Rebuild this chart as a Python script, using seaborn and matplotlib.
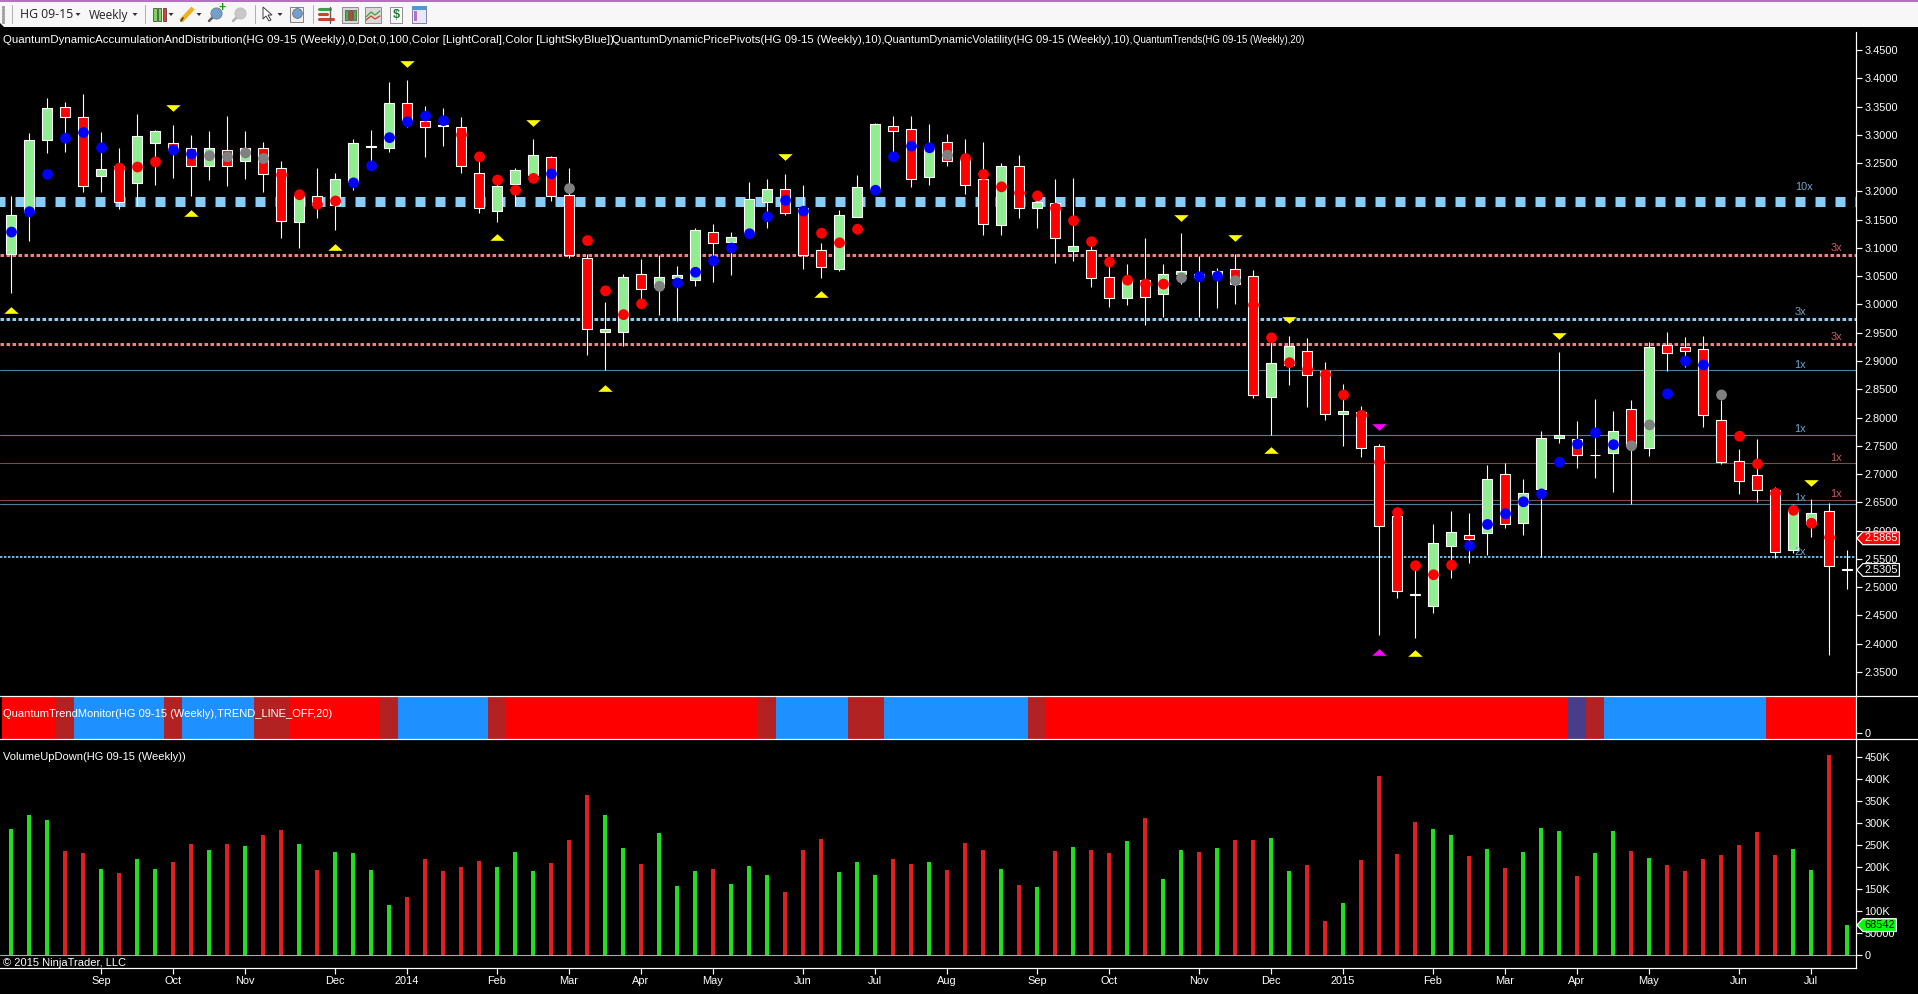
import numpy as np
import pandas as pd
import matplotlib
matplotlib.use("Agg")
import matplotlib.pyplot as plt
import seaborn as sns
from matplotlib.colors import ListedColormap
from matplotlib.lines import Line2D
from matplotlib.path import Path
from matplotlib.patches import Rectangle, Polygon

# ---------------- data ----------------
opens = [3.089,3.164,3.290,3.350,3.331,3.228,3.245,3.214,3.286,3.286,3.276,3.245,3.273,3.253,3.276,3.241,3.145,3.191,3.176,3.217,
         3.279,3.277,3.356,3.324,3.317,3.313,3.233,3.166,3.213,3.229,3.260,3.194,3.083,2.951,2.952,3.053,3.030,3.046,3.044,3.129,
         3.111,3.126,3.182,3.204,3.170,3.096,3.063,3.155,3.205,3.315,3.310,3.226,3.287,3.258,3.221,3.141,3.244,3.171,3.179,3.095,
         3.096,3.048,3.012,3.044,3.019,3.054,3.053,3.052,3.062,3.050,2.837,2.893,2.917,2.883,2.807,2.810,2.749,2.626,2.488,2.467,
         2.572,2.593,2.596,2.700,2.614,2.674,2.763,2.762,2.734,2.738,2.816,2.747,2.928,2.924,2.921,2.795,2.723,2.698,2.672,2.566,
         2.612,2.634,2.532]
closes = [3.158,3.291,3.347,3.332,3.210,3.239,3.181,3.297,3.306,3.273,3.245,3.276,3.245,3.276,3.231,3.148,3.191,3.176,3.221,3.285,
          3.281,3.357,3.326,3.313,3.316,3.244,3.170,3.209,3.237,3.264,3.192,3.088,2.956,2.956,3.048,3.028,3.048,3.052,3.131,3.108,
          3.120,3.186,3.205,3.161,3.088,3.067,3.159,3.207,3.319,3.307,3.222,3.279,3.253,3.212,3.142,3.244,3.171,3.181,3.118,3.103,
          3.046,3.011,3.043,3.014,3.053,3.059,3.049,3.059,3.037,2.839,2.896,2.926,2.876,2.807,2.811,2.747,2.609,2.494,2.487,2.578,
          2.597,2.586,2.692,2.611,2.666,2.763,2.769,2.734,2.733,2.776,2.749,2.924,2.915,2.918,2.805,2.722,2.687,2.672,2.563,2.636,
          2.632,2.538,2.5305]
highs = [3.192,3.303,3.365,3.358,3.373,3.305,3.277,3.337,3.309,3.317,3.300,3.307,3.333,3.307,3.287,3.253,3.197,3.241,3.232,3.292,
         3.309,3.393,3.397,3.351,3.347,3.331,3.261,3.220,3.242,3.292,3.263,3.241,3.090,3.004,3.054,3.080,3.088,3.068,3.135,3.142,
         3.128,3.216,3.222,3.231,3.211,3.108,3.167,3.229,3.321,3.333,3.333,3.319,3.301,3.293,3.287,3.250,3.265,3.197,3.222,3.224,
         3.114,3.076,3.072,3.117,3.072,3.126,3.086,3.064,3.089,3.061,2.949,2.944,2.940,2.898,2.859,2.820,2.753,2.636,2.545,2.612,
         2.635,2.631,2.716,2.719,2.692,2.776,2.916,2.794,2.833,2.812,2.831,2.934,2.951,2.942,2.944,2.831,2.744,2.762,2.677,2.647,
         2.656,2.649,2.566]
lows = [3.021,3.113,3.268,3.270,3.199,3.198,3.168,3.174,3.212,3.224,3.192,3.220,3.210,3.222,3.199,3.118,3.100,3.152,3.131,3.203,
        3.238,3.270,3.314,3.260,3.281,3.233,3.162,3.146,3.174,3.223,3.183,3.083,2.911,2.884,2.927,3.008,2.981,2.971,3.032,3.040,
        3.052,3.126,3.136,3.159,3.063,3.046,3.060,3.155,3.202,3.270,3.207,3.211,3.244,3.196,3.122,3.122,3.153,3.136,3.074,3.076,
        3.030,2.996,2.999,2.963,2.978,3.037,2.977,2.993,3.001,2.835,2.770,2.858,2.819,2.796,2.749,2.731,2.416,2.481,2.411,2.454,
        2.517,2.542,2.557,2.605,2.593,2.553,2.755,2.711,2.693,2.668,2.648,2.732,2.883,2.890,2.783,2.718,2.665,2.651,2.552,2.560,
        2.589,2.380,2.497]

pivot_values = [3.128,3.164,3.230,3.294,3.304,3.277,3.241,3.243,3.252,3.273,3.266,3.263,3.261,3.268,3.258,3.229,3.194,3.177,3.183,3.215,
                3.245,3.295,3.323,3.333,3.325,3.300,3.261,3.220,3.202,3.223,3.231,3.205,3.113,3.024,2.982,3.001,3.032,3.038,3.057,3.077,
                3.100,3.125,3.155,3.184,3.165,3.126,3.109,3.133,3.202,3.261,3.280,3.277,3.264,3.258,3.230,3.208,3.197,3.192,3.170,3.148,
                3.111,3.075,3.043,3.036,3.036,3.047,3.049,3.050,3.042,2.999,2.941,2.897,2.885,2.876,2.840,2.804,2.721,2.632,2.538,2.522,
                2.539,2.573,2.611,2.630,2.651,2.665,2.721,2.753,2.773,2.752,2.750,2.787,2.842,2.900,2.893,2.840,2.767,2.718,2.666,2.636,
                2.613,2.588]
pivot_kinds = list("BBBBBBRRRB" "BNNNNRRRRB" "BBBBBRRRRR" "BNRRRRNBBB" "BBBBBRRRBB"
                   "BBNRRRRRRR" "RRRRRNBBNR" "RRRRRRRRRR" "RBBBBBBBBB" "NNBBBNRRRRRR")

signal_bars = [22,9,29,0,10,18,27,33,43,45,65,68,70,71,86,76,76,78,100]
signal_prices = [3.426,3.347,3.321,2.991,3.162,3.101,3.119,2.853,3.260,3.018,3.153,3.118,2.743,2.973,2.945,2.783,2.386,2.383,2.685]
signal_dirs = ["v","v","v","^","^","^","^","^","v","^","v","v","^","v","v","v","^","^","v"]
signal_colors = ["y","y","y","y","y","y","y","y","y","y","y","y","y","y","y","m","m","y","y"]

level_thick = 3.182
levels_red_dotted = [3.087, 2.930]
level_blue_dotted = 2.974
level_blue_fine = 2.553
levels_blue_thin = [2.884, 2.770, 2.648]
levels_red_thin = [2.719, 2.655]
level_label_text = ["10x","3x","3x","3x","1x","1x","1x","1x","1x","2x"]
level_label_price = [3.208,3.100,2.987,2.942,2.893,2.779,2.728,2.657,2.665,2.563]
level_label_bar = [99.6,101.4,99.4,101.4,99.4,99.4,101.4,99.4,101.4,99.4]
level_label_kind = ["b","r","b","r","b","b","r","b","r","b"]

volume_k = [287,318,307,237,232,196,187,219,196,212,253,239,253,248,273,284,253,194,234,232,
            194,114,132,219,191,200,214,200,234,191,210,262,364,318,244,207,278,157,191,196,
            162,203,182,144,239,264,189,212,182,219,207,212,194,255,239,196,160,155,237,246,
            239,232,259,312,173,239,234,244,262,262,266,191,205,78,119,216,407,230,303,287,
            273,225,241,198,234,289,282,180,232,282,237,221,205,191,219,228,250,280,228,241,
            194,455,68.542]
volume_dir = list("GGGRRGRGGR" "RGRGRRGRGG" "GGRRRRRGGG" "RRRGGRGGGR" "GGGRRRGGGR"
                  "RGRRRGRGRG" "RRGRGGRGRR" "GGRRGRRRRG" "GRGRGGGRGG" "RGRRRRRRRG" "GRG")

trend_states = ["R","F","B","F","B","F","R","F","B","F","R","F","B","F","B","F","R","D","F","B","R"]
trend_runs = [3,1,5,1,4,2,5,1,5,1,14,1,4,2,8,1,29,1,1,9,5]

month_bars = [5,9,13,18,22,27,31,35,39,44,48,52,57,61,66,70,74,79,83,87,91,96,100]
month_labels = ["Sep","Oct","Nov","Dec","2014","Feb","Mar","Apr","May","Jun","Jul","Aug","Sep","Oct","Nov","Dec","2015","Feb","Mar","Apr","May","Jun","Jul"]
price_ticks = [2.35,2.40,2.45,2.50,2.55,2.60,2.65,2.70,2.75,2.80,2.85,2.90,2.95,3.00,3.05,3.10,3.15,3.20,3.25,3.30,3.35,3.40,3.45]
volume_ticks = [0,50,100,150,200,250,300,350,400,450]
volume_tick_labels = ["0","50000","100K","150K","200K","250K","300K","350K","400K","450K"]

# ---------------- styling ----------------
W, H = 1918, 994
sns.set_theme(style="dark", rc={"axes.facecolor": "black", "figure.facecolor": "black",
                                "savefig.facecolor": "black", "lines.scale_dashes": False,
                                "axes.grid": False})
plt.rcParams["font.family"] = ["Liberation Sans", "DejaVu Sans"]
PX = 72 / 100  # one pixel in points
LABEL = 7.9
XRIGHT = 1856.4

def add_panel(top, bottom, left=0.0, right=XRIGHT):
    return fig.add_axes([left / W, 1 - bottom / H, (right - left) / W, (bottom - top) / H])

def style_right(ax):
    for s in ax.spines.values():
        s.set_visible(False)
    ax.spines["right"].set_visible(True)
    ax.spines["right"].set_color("white")
    ax.spines["right"].set_linewidth(1.2 * PX)
    ax.yaxis.tick_right()
    ax.tick_params(axis="y", colors="white", length=6 * PX, width=1.2 * PX, pad=2 * PX, labelsize=LABEL, right=True, left=False)
    ax.set_xlabel("")
    ax.set_ylabel("")

fig = plt.figure(figsize=(W / 100, H / 100), dpi=100)
BAR0, STEP = 11.0, 18.0
XLIM = (-BAR0 / STEP, (XRIGHT - BAR0) / STEP)
bars = np.arange(len(opens))

# ---------------- price panel ----------------
ax1 = add_panel(32, 695.5)
ax1.set_xlim(*XLIM)
ax1.set_ylim(2.9 + (361 - 695.5) / 565.5, 2.9 + (361 - 32) / 565.5)

ax1.axhline(level_thick, color="#87CEFA", lw=10 * PX, ls=(3.24, (10 * PX, 10 * PX)), solid_capstyle="butt", dash_capstyle="butt", zorder=1)
for lv in levels_red_dotted:
    ax1.axhline(lv, color="#F08080", lw=3 * PX, ls=(0, (3.6 * PX, 2.4 * PX)), dash_capstyle="butt", zorder=1)
ax1.axhline(level_blue_dotted, color="#87CEFA", lw=3 * PX, ls=(0, (3.6 * PX, 2.4 * PX)), dash_capstyle="butt", zorder=1)
ax1.axhline(level_blue_fine, color="#72B0D4", lw=2 * PX, ls=(0, (2.4 * PX, 1.6 * PX)), dash_capstyle="butt", zorder=1)
for lv in levels_blue_thin:
    ax1.axhline(lv, color="#4F7F9F", lw=1.1 * PX, zorder=1)
for lv in levels_red_thin:
    ax1.axhline(lv, color="#7F4A4A", lw=1.1 * PX, zorder=1)

ax1.vlines(bars, lows, highs, color="white", lw=1.1 * PX, zorder=2)
o, c = np.array(opens), np.array(closes)
body_colors = np.where(c >= o, "#90EE90", "#FF0000")
ax1.bar(bars, np.abs(c - o), bottom=np.minimum(o, c), width=10.5 / STEP, color=body_colors,
        edgecolor="white", linewidth=1.1 * PX, zorder=3)

pivots = pd.DataFrame({"bar": bars[: len(pivot_values)] + 0.03, "value": pivot_values, "kind": pivot_kinds})
sns.scatterplot(data=pivots, x="bar", y="value", hue="kind", palette={"B": "#0000FF", "R": "#FF0000", "N": "#808080"},
                s=60, linewidth=0, marker="o", legend=False, ax=ax1, zorder=4)

tri_up = [(-1, -0.46), (1, -0.46), (0, 0.46)]
tri_down = [(-1, 0.46), (1, 0.46), (0, -0.46)]
for b, p, d, col in zip(signal_bars, signal_prices, signal_dirs, signal_colors):
    ax1.plot([b], [p], ls="none", marker=tri_up if d == "^" else tri_down, markersize=10.4,
             color="#FFFF00" if col == "y" else "#FF00FF", markeredgewidth=0, zorder=5)

for t, p, b, k in zip(level_label_text, level_label_price, level_label_bar, level_label_kind):
    ax1.text(b, p, t, color="#6CA6CD" if k == "b" else "#CD5C5C", fontsize=LABEL, ha="center", va="center", zorder=6)

ax1.set_yticks(price_ticks, [f"{p:.4f}" for p in price_ticks])
ax1.set_xticks([])
style_right(ax1)

def flag_box(x0, y0, width, height, mutation_size):
    cy = y0 + height / 2
    top, bot = cy + 6.4, cy - 6.4
    l, r = x0 - 1.5, x0 + width + 1.5
    return Path([(l - 6, cy), (l, top), (r, top), (r, bot), (l, bot), (l - 6, cy)], closed=True)

def flag(ax, value, text, fc, tc, dx):
    ax.annotate(text, xy=(1, value), xycoords=ax.get_yaxis_transform(), xytext=(dx, 0), textcoords="offset pixels",
                color=tc, fontsize=LABEL, va="center", ha="left", annotation_clip=False, zorder=20,
                bbox=dict(boxstyle=flag_box, fc=fc, ec="white", lw=1.2 * PX))

flag(ax1, 2.5865, "2.5865", "#FF0000", "white", 8)
flag(ax1, 2.5305, "2.5305", "black", "white", 8)

# ---------------- trend monitor strip ----------------
ax2 = add_panel(695.5, 738.5)
trend_cells = pd.Series(np.repeat(trend_states, trend_runs)).map({"R": 0, "F": 1, "B": 2, "D": 3}).to_numpy()
sns.heatmap(trend_cells.reshape(1, -1), cmap=ListedColormap(["#FF0000", "#B22222", "#1E90FF", "#483D8B"]),
            vmin=0, vmax=3, cbar=False, xticklabels=False, yticklabels=False, ax=ax2)
ax2.set_xlim(XLIM[0] + 0.5, XLIM[1] + 0.5)
ax2.set_ylim(1, 0)
ax2.set_yticks([0.875], ["0"])
ax2.set_xticks([])
style_right(ax2)

# ---------------- volume panel ----------------
ax3 = add_panel(738.5, 968)
vol = pd.DataFrame({"bar": bars, "volume": volume_k, "dir": volume_dir})
sns.barplot(data=vol, x="bar", y="volume", hue="dir", palette={"G": "#00FF00", "R": "#FF0000"}, dodge=False,
            native_scale=True, width=4.2 / STEP, linewidth=0, legend=False, ax=ax3, zorder=3)
ax3.axhline(0, color="#A9A9A9", lw=1.1 * PX, zorder=4)
ax3.set_xlim(*XLIM)
ax3.set_ylim((955.3 - 968) / 0.4407, (955.3 - 738.5) / 0.4407)
ax3.set_yticks(volume_ticks, volume_tick_labels)
ax3.set_xticks(month_bars, month_labels)
style_right(ax3)
ax3.spines["bottom"].set_visible(True)
ax3.spines["bottom"].set_color("white")
ax3.spines["bottom"].set_linewidth(1.2 * PX)
ax3.tick_params(axis="x", colors="white", length=6 * PX, width=1.2 * PX, pad=2 * PX, labelsize=LABEL, bottom=True)
flag(ax3, 68.542, "68542", "#00FF00", "black", 8)

# ---------------- frame lines and captions ----------------
def fline(x0, x1, y, color="white", lw=1.2 * PX):
    fig.add_artist(Line2D([x0 / W, x1 / W], [1 - y / H, 1 - y / H], transform=fig.transFigure, color=color, lw=lw, zorder=10))

fline(0, W, 695.5)
fline(0, W, 738.5)

def caption(x, y, s, size=8.0, color="white", **kw):
    fig.text(x / W, 1 - y / H, s, color=color, fontsize=size, va="center", ha="left", zorder=12, **kw)

caption(3, 40, "QuantumDynamicAccumulationAndDistribution(HG 09-15 (Weekly),0,Dot,0,100,Color [LightCoral],Color [LightSkyBlue]),", size=8.24)
caption(611.6, 40, "QuantumDynamicPricePivots(HG 09-15 (Weekly),10),", size=8.2)
caption(884, 40, "QuantumDynamicVolatility(HG 09-15 (Weekly),10),", size=7.9)
caption(1132.7, 40, "QuantumTrends(HG 09-15 (Weekly),20)", size=6.9)
caption(3, 714.3, "QuantumTrendMonitor(HG 09-15 (Weekly),TREND_LINE_OFF,20)")
caption(3, 757.3, "VolumeUpDown(HG 09-15 (Weekly))")
caption(3, 962.5, "© 2015 NinjaTrader, LLC")

# ---------------- toolbar ----------------
tb = fig.add_axes([0, 1 - 27 / H, 1, 27 / H], zorder=30)
tb.set_xlim(0, W)
tb.set_ylim(27, 0)
tb.axis("off")
tb.add_patch(Rectangle((0, 0), W, 27, fc="#F7F7F7", ec="none"))
tb.add_patch(Rectangle((0, 0), W, 2, fc="#B46FC6", ec="none"))
tb.add_patch(Polygon([(0, 27), (4, 27), (0, 23)], fc="black", ec="none"))
for x in (12, 145, 255, 313):
    tb.plot([x, x], [5, 23], color="#B0B0B0", lw=1 * PX)
for y in (7, 10, 13, 16, 19, 22):
    tb.plot([3], [y], "s", ms=1.2, color="#A0A0A0")
tb.text(20, 15, "HG 09-15", fontsize=8.8, color="#202020", va="center", family="Open Sans")
tb.text(89, 15, "Weekly", fontsize=8.6, color="#202020", va="center", family="Open Sans")
for x in (78, 135, 171, 199, 280):
    tb.add_patch(Polygon([(x - 2.5, 13), (x + 2.5, 13), (x, 16)], fc="#303030", ec="none"))
for x, col in ((153, "#7CD65C"), (157.5, "#7CD65C"), (162.5, "#E04030")):
    tb.add_patch(Rectangle((x, 8), 3.6, 13, fc=col, ec="#303030", lw=0.5))
tb.plot([181, 193], [21, 8], color="#F0B020", lw=3.2, solid_capstyle="butt")
tb.plot([181, 183], [21, 18], color="#404040", lw=1.2)
for x, col, plus in ((216, "#70A0D0", True), (240, "#C8C8C8", False)):
    tb.plot([209 + x - 216, 213 + x - 216], [21, 17], color="#606060" if plus else "#B0B0B0", lw=1.8)
    tb.plot([x], [13], "o", ms=8, mfc=col, mec="#808080" if plus else "#C0C0C0", mew=0.7)
tb.text(222, 8, "+", color="#10A010", fontsize=9, ha="center", va="center", fontweight="bold")
tb.add_patch(Polygon([(263, 7), (263, 19), (266, 16), (269, 21), (271, 20), (268, 15), (272, 15)], fc="white", ec="#404040", lw=0.7))
tb.add_patch(Rectangle((290, 7), 13, 15, fc="#F0F0F0", ec="#808080", lw=0.7))
tb.plot([296.5], [13], "o", ms=7, mfc="#70A0D0", mec="#707070", mew=0.6)
tb.add_patch(Rectangle((319, 7), 16, 16, fc="#F4F4F4", ec="none"))
for y, x1, col in ((9, 330, "#40A040"), (14, 327, "#D04030"), (19, 333, "#D04030")):
    tb.plot([319, x1], [y, y], color=col, lw=2.2)
tb.plot([330, 330], [7, 23], color="#606060", lw=1)
tb.add_patch(Rectangle((342, 7), 16, 16, fc="#D8D8D8", ec="#808080", lw=0.6))
for x, col in ((345, "#50B040"), (349, "#D04030"), (353, "#50B040")):
    tb.add_patch(Rectangle((x, 10), 2.8, 10, fc=col, ec="#303030", lw=0.4))
tb.add_patch(Rectangle((365, 7), 16, 16, fc="#D8D8D8", ec="#808080", lw=0.6))
tb.plot([366, 371, 375, 380], [17, 12, 15, 11], color="#40A040", lw=0.9)
tb.plot([366, 371, 375, 380], [20, 16, 19, 16], color="#D04030", lw=0.9)
tb.add_patch(Rectangle((390, 7), 12, 16, fc="#FAFAFA", ec="#808080", lw=0.6))
tb.text(396, 15, "$", color="#208030", fontsize=9, ha="center", va="center", fontweight="bold")
tb.add_patch(Rectangle((412, 6), 14, 17, fc="#E8E8F8", ec="#707090", lw=0.6))
tb.add_patch(Rectangle((412, 6), 14, 3.5, fc="#5098D0", ec="none"))
tb.add_patch(Rectangle((414, 11), 3, 10, fc="#B070D0", ec="none"))

fig.savefig("out.png", dpi=100, facecolor="black")
